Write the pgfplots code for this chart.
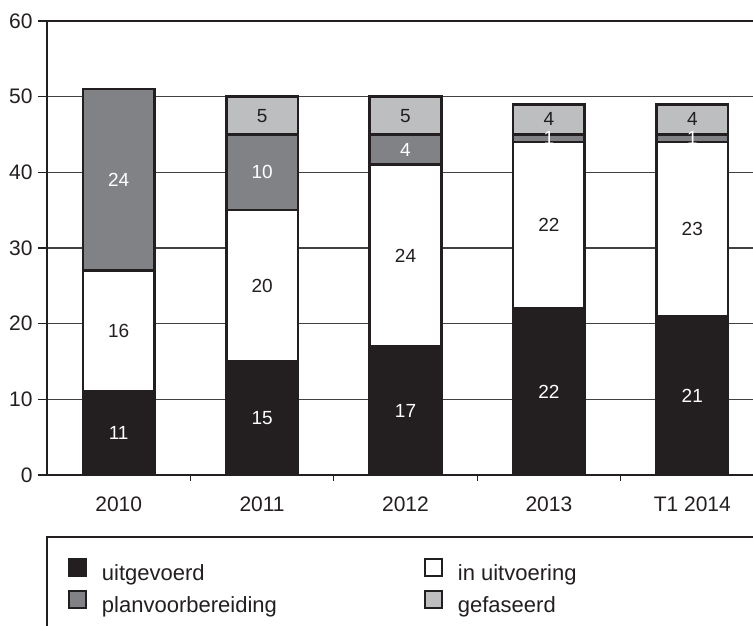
\documentclass[border=0pt]{standalone}
\usepackage{fontspec}
\setmainfont{Liberation Sans}
\usepackage{pgfplots}
\pgfplotsset{compat=1.18}

\definecolor{ink}{HTML}{231F20}
\definecolor{midgray}{HTML}{808285}
\definecolor{lightgray}{HTML}{BCBEC0}

\pgfplotsset{
  sameframe/.style={
    scale only axis, width=358.5pt, height=227pt,
    xmin=-0.5, xmax=4.5, ymin=0, ymax=60,
    at={(0,0)}, anchor=south west},
  barlabel/.style={only marks, mark=none, nodes near coords,
    point meta=explicit symbolic,
    every node near coord/.append style={anchor=center, #1,
      font=\fontsize{9.5}{10}\selectfont}},
}

\begin{document}
\begin{tikzpicture}
\begin{axis}[sameframe,
  ybar stacked, bar width=0.5,
  axis line style={ink, line width=1.1pt},
  ytick={0,10,...,60}, ytick pos=left,
  ymajorgrids, grid style={ink!85, line width=0.6pt},
  xtick={0,...,4}, xticklabels={2010,2011,2012,2013,T1 2014}, xtick pos=bottom,
  minor xtick={0.5,1.5,2.5,3.5},
  major x tick style={draw=none},
  minor x tick style={ink, line width=0.6pt},
  y tick style={ink, line width=0.6pt},
  tick align=outside, major tick length=4.5pt, minor tick length=3pt,
  tick label style={font=\fontsize{10.5}{12}\selectfont, text=ink},
  /pgf/number format/assume math mode=true,
  yticklabel style={inner sep=2.5pt},
  xticklabel style={anchor=base, yshift=-14pt},
  legend columns=2, legend cell align=left,
  legend image code/.code={\draw[#1, line width=1pt] (0pt,-0.5pt) rectangle (8.5pt,8pt);},
  legend style={draw=none, fill=none, inner sep=0pt, outer sep=0pt,
    at={(0,0)}, anchor=north west, xshift=10.5pt, yshift=-41.4pt,
    font=\fontsize{11}{13}\selectfont, text=ink,
    nodes={inner sep=0pt, text height=8pt, text depth=2.5pt},
    /tikz/row sep=2.5pt,
    /tikz/column 1/.style={column sep=7.5pt},
    /tikz/column 2/.style={column sep=73.5pt},
    /tikz/column 3/.style={column sep=7.5pt}},
  every axis plot/.append style={draw=ink, line width=1.3pt},
]
\addplot[fill=ink] coordinates {(0,11) (1,15) (2,17) (3,22) (4,21)};
\addplot[fill=white] coordinates {(0,16) (1,20) (2,24) (3,22) (4,23)};
\addplot[fill=midgray] coordinates {(0,24) (1,10) (2,4) (3,1) (4,1)};
\addplot[fill=lightgray] coordinates {(0,0) (1,5) (2,5) (3,4) (4,4)};
\legend{uitgevoerd, in uitvoering, planvoorbereiding, gefaseerd}
\end{axis}
\begin{axis}[sameframe, hide axis]
\addplot[barlabel=white] coordinates {
  (0,5.5)[11] (1,7.5)[15] (2,8.5)[17] (3,11)[22] (4,10.5)[21]
  (0,39)[24] (1,40)[10] (2,43)[4] (3,44.5)[1] (4,44.5)[1]};
\addplot[barlabel=ink] coordinates {
  (0,19)[16] (1,25)[20] (2,29)[24] (3,33)[22] (4,32.5)[23]
  (1,47.5)[5] (2,47.5)[5] (3,47)[4] (4,47)[4]};
\end{axis}
\draw[ink, line width=1pt] (0pt,-31pt) rectangle (420pt,-120pt);
\pgfresetboundingbox
\path[use as bounding box] (-23.5pt,-75pt) rectangle (353pt,237.5pt);
\end{tikzpicture}
\end{document}
